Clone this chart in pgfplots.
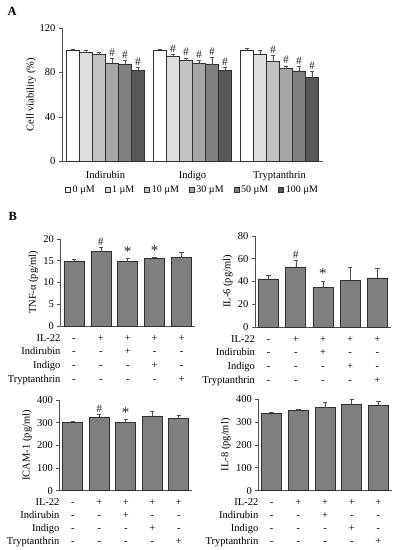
\documentclass[border=0pt]{standalone}
\usepackage{fontspec}
\setmainfont{Liberation Serif}
\usepackage{pgfplots}
\pgfplotsset{compat=1.18}
\usepackage{pgfplotstable}

\definecolor{cA0}{HTML}{FFFFFF}
\definecolor{cA1}{HTML}{DEDEDE}
\definecolor{cA2}{HTML}{C2C2C2}
\definecolor{cA3}{HTML}{A6A6A6}
\definecolor{cA4}{HTML}{808080}
\definecolor{cA5}{HTML}{585858}
\definecolor{barB}{HTML}{7F7F7F}
\definecolor{edge}{HTML}{303030}
\definecolor{axline}{HTML}{505050}

\def\hcode{h}\def\scode{s}
\newcommand\mymark{\edef\tmpm{\pgfplotspointmeta}\ifx\tmpm\hcode{\fontsize{11.5}{12}\selectfont\#}\else\ifx\tmpm\scode{\fontsize{15}{15}\selectfont*}\fi\fi}

\pgfplotstableread{
x v0 e0 m0 v1 e1 m1 v2 e2 m2 v3 e3 m3 v4 e4 m4 v5 e5 m5
0 100 0.8 n 98.4 1.5 n 96.0 2.4 n 88.6 3.9 h 87.7 3.3 h 82.0 2.7 h
1 100 0.8 n 94.5 1.5 h 90.7 2.4 h 88.3 2.7 h 87.1 6.2 h 82.0 2.7 h
2 100 1.8 n 96.3 3.6 n 89.8 5.3 h 83.6 2.4 h 81.5 3.9 h 75.9 5.0 h
}\dataA

\pgfplotstableread{
x v e m
0 14.9 0.5 n
1 17.1 0.9 h
2 14.8 0.7 s
3 15.6 0.15 s
4 15.7 1.15 n
}\dataTNF

\pgfplotstableread{
x v e m
0 42.3 3.5 n
1 52.8 5.5 h
2 34.7 5.8 s
3 40.9 11.7 n
4 43.2 8.5 n
}\dataIlsix

\pgfplotstableread{
x v e m
0 301.5 7 n
1 323.5 12 h
2 300 13 s
3 328 23.5 n
4 319 13 n
}\dataICAM

\pgfplotstableread{
x v e m
0 337.5 4.4 n
1 349 5.8 n
2 362 21.8 n
3 377 20.4 n
4 372.4 17.5 n
}\dataIleight

\pgfplotsset{
  common/.style={
    scale only axis,
    axis x line*=bottom, axis y line*=left,
    axis line style={axline, line width=0.6pt},
    tick style={axline, line width=0.6pt},
    tick align=outside, major tick length=3pt,
    xtick style={draw=none},
    ymin=0, clip=false, enlarge x limits=false,
    /pgf/number format/assume math mode=true,
    tick label style={font=\fontsize{10.5}{12}\selectfont},
    label style={font=\fontsize{10.5}{12}\selectfont},
    ybar,
  },
  hashbar/.style={
    draw=edge, line width=0.6pt,
    point meta=explicit symbolic,
    nodes near coords={\mymark},
    visualization depends on={\thisrow{#1} \as \errv},
    every node near coord/.append style={shift={(axis direction cs:0,\errv)}, inner sep=1.8pt, anchor=south, text=black!85},
    error bars/y dir=plus, error bars/y explicit,
    error bars/error bar style={axline, line width=0.5pt},
    error bars/error mark options={rotate=90, mark size=2.2pt, axline, line width=0.5pt},
  },
  Bstyle/.style={
    common, xmin=-0.5, xmax=4.5, xtick={0,1,2,3,4}, bar width=20pt,
    xticklabels={{\strut -\\-\\-\\-},{\strut +\\-\\-\\-},{\strut +\\+\\-\\-},{\strut +\\-\\+\\-},{\strut +\\-\\-\\+}},
    xticklabel style={align=center, font=\fontsize{10.5}{#1}\selectfont, yshift=1pt},
    extra x ticks={-0.5},
    extra x tick labels={{\strut IL-22\\Indirubin\\Indigo\\Tryptanthrin}},
    extra x tick style={xtick style={draw=none}, xticklabel style={anchor=north east, align=right, xshift=3.5pt}},
    ylabel style={yshift=-1.5pt},
  },
}

\begin{document}
\begin{tikzpicture}
\path[use as bounding box] (0,0) rectangle (397pt,-550pt);
\node[anchor=base west, font=\bfseries\fontsize{12.5}{14}\selectfont] at (4pt,-15.5pt) {A};
\node[anchor=base west, font=\bfseries\fontsize{12.5}{14}\selectfont] at (5pt,-220pt) {B};

% Panel A
\begin{axis}[common, at={(62pt,-161.5pt)}, anchor=south west,
  width=261pt, height=133.5pt, ymax=120, ytick={0,40,80,120},
  xmin=-0.5, xmax=2.5, xtick={0,1,2}, xticklabels={Indirubin,Indigo,Tryptanthrin},
  xticklabel style={yshift=-3.5pt},
  bar width=13pt, ybar=0pt,
  ylabel={Cell viability (\%)}, ylabel style={yshift=-3pt},
  legend columns=6,
  legend image code/.code={\draw[#1, line width=0.5pt] (0pt,-2.5pt) rectangle (5pt,2.5pt);},
  legend style={draw=none, fill=none, at={(0.5,-0.213)}, anchor=center,
    font=\fontsize{10}{12}\selectfont, inner sep=0pt,
    /tikz/every even column/.append style={column sep=8pt},
    /tikz/every odd column/.append style={column sep=0pt}},
  ]
\addplot[fill=cA0, hashbar=e0] table[x=x, y=v0, y error=e0, meta=m0]{\dataA};
\addplot[fill=cA1, hashbar=e1] table[x=x, y=v1, y error=e1, meta=m1]{\dataA};
\addplot[fill=cA2, hashbar=e2] table[x=x, y=v2, y error=e2, meta=m2]{\dataA};
\addplot[fill=cA3, hashbar=e3] table[x=x, y=v3, y error=e3, meta=m3]{\dataA};
\addplot[fill=cA4, hashbar=e4] table[x=x, y=v4, y error=e4, meta=m4]{\dataA};
\addplot[fill=cA5, hashbar=e5] table[x=x, y=v5, y error=e5, meta=m5]{\dataA};
\legend{0 µM, 1 µM, 10 µM, 30 µM, 50 µM, 100 µM}
\end{axis}

% TNF-alpha
\begin{axis}[Bstyle=13.7, at={(60.5pt,-326pt)}, anchor=south west,
  width=134.5pt, height=87pt, ymax=20, ytick={0,5,10,15,20},
  ylabel={TNF-α (pg/ml)}]
\addplot[fill=barB, hashbar=e] table[x=x, y=v, y error=e, meta=m]{\dataTNF};
\end{axis}

% IL-6
\begin{axis}[Bstyle=13.7, at={(255pt,-327pt)}, anchor=south west,
  width=136pt, height=91pt, ymax=80, ytick={0,20,40,60,80},
  ylabel={IL-6 (pg/ml)}]
\addplot[fill=barB, hashbar=e] table[x=x, y=v, y error=e, meta=m]{\dataIlsix};
\end{axis}

% ICAM-1
\begin{axis}[Bstyle=13.1, at={(59.5pt,-490.7pt)}, anchor=south west,
  width=132.5pt, height=90.7pt, ymax=400, ytick={0,100,200,300,400},
  ylabel={ICAM-1 (pg/ml)}]
\addplot[fill=barB, hashbar=e] table[x=x, y=v, y error=e, meta=m]{\dataICAM};
\end{axis}

% IL-8
\begin{axis}[Bstyle=13.1, at={(258.3pt,-490.7pt)}, anchor=south west,
  width=133.5pt, height=91.7pt, ymax=400, ytick={0,100,200,300,400},
  ylabel={IL-8 (pg/ml)}]
\addplot[fill=barB, hashbar=e] table[x=x, y=v, y error=e, meta=m]{\dataIleight};
\end{axis}
\end{tikzpicture}
\end{document}
